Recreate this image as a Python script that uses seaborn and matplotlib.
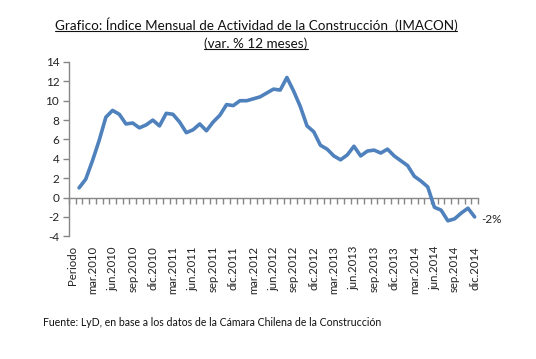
import numpy as np
import pandas as pd
import matplotlib
matplotlib.use("Agg")
import matplotlib.pyplot as plt
import seaborn as sns
from matplotlib.lines import Line2D

# ---- data ----
month_abbr = ["ene", "feb", "mar", "abr", "may", "jun", "jul", "ago", "sep", "oct", "nov", "dic"]
years = [2010, 2011, 2012, 2013, 2014]
categories = ["Periodo"] + [f"{m}.{y}" for y in years for m in month_abbr]

imacon_2010 = [1.0, 1.9, 3.8, 5.9, 8.3, 9.0, 8.6, 7.6, 7.7, 7.2, 7.5, 8.0]
imacon_2011 = [7.4, 8.7, 8.6, 7.8, 6.7, 7.0, 7.6, 6.9, 7.8, 8.5, 9.6, 9.5]
imacon_2012 = [10.0, 10.0, 10.2, 10.4, 10.8, 11.2, 11.1, 12.4, 11.0, 9.4, 7.4, 6.8]
imacon_2013 = [5.4, 5.0, 4.3, 3.9, 4.4, 5.3, 4.3, 4.8, 4.9, 4.6, 5.0, 4.3]
imacon_2014 = [3.8, 3.3, 2.2, 1.7, 1.1, -1.0, -1.3, -2.4, -2.2, -1.6, -1.1, -2.0]
values = imacon_2010 + imacon_2011 + imacon_2012 + imacon_2013 + imacon_2014

y_ticks = [-4, -2, 0, 2, 4, 6, 8, 10, 12, 14]
last_label = "-2%"

title_1 = "Grafico: Índice Mensual de Actividad de la Construcción  (IMACON)"
title_2 = "(var. % 12 meses)"
source = "Fuente: LyD, en base a los datos de la Cámara Chilena de la Construcción"

# ---- style ----
sns.set_style("white")
plt.rcParams["font.family"] = ["Lato", "DejaVu Sans"]

line_color = "#4F81BD"
axis_color = "#868686"

fig = plt.figure(figsize=(5.36, 3.59), dpi=100)
ax = fig.add_axes([0.1287, 0.3418, 0.7631, 0.4855])

df = pd.DataFrame({"pos": np.arange(1, len(values) + 1), "val": values})
sns.lineplot(data=df, x="pos", y="val", ax=ax, color=line_color, linewidth=2.6,
             solid_joinstyle="round", solid_capstyle="round")

n_cat = len(categories)
ax.set_xlim(-0.5, n_cat - 0.5)
ax.set_ylim(y_ticks[0], y_ticks[-1])
ax.set_xlabel("")
ax.set_ylabel("")

# main x axis: labels at the bottom, no spine
label_pos = np.arange(0, n_cat, 3)
ax.set_xticks(label_pos)
ax.set_xticklabels([categories[i] for i in label_pos], rotation=90, fontsize=8.2, color="#222222")
ax.tick_params(axis="x", length=0, pad=7)
for s in ["top", "right", "bottom"]:
    ax.spines[s].set_visible(False)

# y axis
ax.set_yticks(y_ticks)
ax.set_yticklabels([str(v) for v in y_ticks], fontsize=8.5, color="#222222")
ax.spines["left"].set_color(axis_color)
ax.spines["left"].set_linewidth(1.0)
ax.tick_params(axis="y", direction="out", length=4, width=1, color=axis_color, pad=3, left=True)

# secondary x axis along the zero line with category boundary ticks
zero_frac = (0 - y_ticks[0]) / (y_ticks[-1] - y_ticks[0])
sec = ax.secondary_xaxis(zero_frac)
sec.set_xticks(np.arange(-0.5, n_cat, 1.0))
sec.set_xticklabels([])
sec.tick_params(axis="x", direction="out", length=4, width=1, color=axis_color)
sec.spines["bottom"].set_color(axis_color)
sec.spines["bottom"].set_linewidth(1.0)

# data label for the last point
ax.annotate(last_label, xy=(df["pos"].iloc[-1], df["val"].iloc[-1]), xytext=(5, -2),
            textcoords="offset points", fontsize=8.5, color="#222222", va="center", ha="left")

# titles with underline
t1 = fig.text(256 / 536, 1 - 25 / 359, title_1, ha="center", va="center", fontsize=9.7, color="#111111")
t2 = fig.text(256 / 536, 1 - 44 / 359, title_2, ha="center", va="center", fontsize=9.7, color="#111111")
fig.text(43 / 536, 1 - 323 / 359, source, ha="left", va="center", fontsize=7.6, color="#111111")

fig.canvas.draw()
renderer = fig.canvas.get_renderer()
inv = fig.transFigure.inverted()
for t in (t1, t2):
    bb = t.get_window_extent(renderer)
    (x0, y0), (x1, _) = inv.transform([(bb.x0, bb.y0), (bb.x1, bb.y1)])
    fig.add_artist(Line2D([x0, x1], [y0 + 0.003, y0 + 0.003], transform=fig.transFigure,
                          color="#111111", linewidth=0.8))

fig.savefig("out.png", dpi=100)
